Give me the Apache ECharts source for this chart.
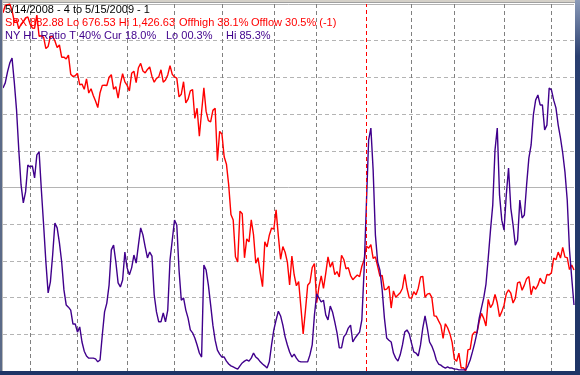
<!DOCTYPE html>
<html><head><meta charset="utf-8">
<script src="https://cdn.jsdelivr.net/npm/echarts@6/dist/echarts.min.js"></script>
<style>html,body{margin:0;padding:0;background:#fff}#c{width:580px;height:375px}</style>
</head><body><div id="c"></div>
<script>
const monthLabels = ['2008-05','2008-06','2008-07','2008-08','2008-09','2008-10','2008-11','2008-12','2009-01','2009-02','2009-03','2009-04','2009-05'];
const monthDays = [12,21,22,21,21,23,19,22,20,19,22,21,11];
const spx = [
1408.66,1423.57,1425.35,1426.63,1413.40,1390.71,1394.35,1375.93,1385.35,1390.84,1398.26,1400.38,
1385.67,1377.65,1377.20,1404.05,1360.68,1361.76,1358.44,1335.49,1339.87,1360.03,1360.14,1350.93,1337.81,1342.83,1317.93,1318.00,1314.29,1321.97,1283.15,1278.38,1280.00,
1284.91,1261.52,1262.90,1252.31,1273.70,1244.69,1253.39,1239.49,1228.30,1214.91,1245.36,1260.32,1260.68,1260.00,1277.00,1282.19,1252.54,1257.76,1234.37,1263.20,1284.26,1267.38,
1260.31,1249.01,1284.88,1289.19,1266.07,1296.32,1305.32,1289.59,1285.83,1292.93,1298.20,1278.60,1266.69,1274.54,1277.72,1292.20,1266.84,1271.51,1281.66,1300.68,1282.83,
1277.58,1274.98,1236.83,1242.31,1267.79,1224.51,1232.04,1249.05,1251.70,1192.70,1213.60,1156.39,1206.51,1255.08,1207.09,1188.22,1185.87,1209.18,1213.27,1106.39,1166.36,
1161.06,1114.28,1099.23,1056.89,996.23,984.94,909.92,899.22,1003.35,998.01,907.84,946.43,940.55,985.40,955.05,896.78,908.11,876.77,848.92,940.51,930.09,954.09,968.75,
966.30,1005.75,952.77,904.88,930.99,919.21,898.95,852.30,911.29,873.29,850.75,859.12,806.58,752.44,800.03,851.81,857.39,887.68,896.24,
816.21,848.81,870.74,845.22,876.07,909.70,888.67,899.24,873.59,879.73,868.57,913.18,904.42,885.28,887.88,871.63,863.16,868.15,872.80,869.42,890.64,903.25,
931.80,927.45,934.70,906.65,909.73,890.35,870.26,871.79,842.62,843.74,850.12,805.22,840.24,827.50,831.95,836.57,845.71,874.09,845.14,825.88,
825.44,838.51,832.23,845.85,868.60,869.89,827.16,833.74,835.19,826.84,789.17,788.42,778.94,770.05,743.33,773.14,764.90,752.83,735.09,
700.82,696.33,712.87,682.55,683.38,676.53,719.60,721.36,750.74,756.55,753.89,778.12,794.35,784.04,768.54,822.92,806.12,813.88,832.86,815.94,787.53,797.87,
811.08,834.38,842.50,835.48,815.55,825.16,856.56,858.73,841.50,852.06,865.30,869.60,832.39,850.08,843.55,851.92,866.23,857.51,855.16,873.64,872.81,
877.52,907.24,903.80,919.53,907.39,929.23,909.24,908.35,883.92,893.07,882.88];
const hlRatio = [
77.1,78.5,81.5,83.9,85.3,78.7,71.1,60.2,50.7,45.8,48.8,56.1,55.6,55.9,52.6,58.9,59.7,49.3,39.8,29.7,
21.3,24.3,31.6,40.3,39.0,34.9,29.7,22.1,18.0,17.4,16.6,12.8,12.8,10.6,12.0,7.9,5.4,4.1,3.5,3.5,
3.5,3.3,2.5,3.0,9.8,16.1,18.5,23.4,33.0,34.3,29.7,24.0,22.9,24.8,32.4,28.1,26.2,28.1,31.6,29.4,
34.3,39.0,37.1,33.8,30.8,32.4,31.3,20.7,16.1,13.4,13.4,15.8,13.4,16.6,30.2,35.7,41.1,39.8,27.5,19.3,
19.9,16.6,14.4,11.2,10.4,9.0,7.1,4.9,3.8,28.9,27.5,23.4,18.0,12.5,8.4,5.7,4.6,3.8,3.8,2.7,
1.9,1.4,1.1,0.8,0.5,1.4,2.2,2.7,3.0,2.7,3.5,4.9,3.8,3.3,2.5,1.9,1.4,0.8,2.5,7.1,
11.2,13.9,16.3,15.0,12.5,9.3,7.1,5.2,3.8,4.6,3.5,2.7,2.5,2.5,2.5,2.5,4.4,7.1,15.3,21.0,
19.9,18.8,19.3,15.3,13.9,17.7,16.1,13.4,10.4,6.3,6.3,9.3,10.1,11.7,12.5,7.9,9.0,9.8,10.6,13.9,
27.5,45.2,62.9,66.2,54.8,37.1,29.7,27.5,22.1,14.4,9.0,8.4,7.9,4.9,3.5,2.7,4.4,7.1,10.6,11.2,
10.1,7.6,5.2,4.9,4.1,7.1,11.7,15.0,11.7,7.9,6.8,5.2,3.0,1.9,1.6,1.1,0.8,1.1,0.8,0.8,
0.5,0.5,0.3,0.3,0.3,0.3,1.4,3.0,5.2,7.6,10.4,14.4,17.2,19.9,23.7,30.8,38.4,45.2,60.2,66.2,
48.0,41.1,38.4,48.0,55.3,44.4,39.8,34.3,35.7,46.6,41.7,42.5,50.7,58.0,61.6,69.8,73.8,75.2,72.5,72.5,
65.7,67.0,77.1,76.6,73.8,71.7,67.0,63.5,59.4,54.2,46.6,33.0,25.3,18.0];

const titleLine = '5/14/2008 - 4 to 5/15/2009 - 1';
const spxTexts = [['SPX 882.88 Lo 676.53 Hi 1,426.63',5],['Offhigh 38.1%',179],['Offlow 30.5% (-1)',251]];
const hlTexts = [['NY HL Ratio T 40%',5],['Cur',104],['18.0%',125],['Lo 00.3%',166],['Hi 85.3%',226]];

const categories = [];
const monthStarts = [];
monthLabels.forEach((m, i) => {
  monthStarts.push(categories.length);
  for (let d = 1; d <= monthDays[i]; d++) categories.push(m + '#' + d);
});
const yearStart = monthStarts[monthLabels.indexOf('2009-01')];
const greyStarts = monthStarts.slice(1).filter(i => i !== yearStart);

const RED = '#ff0000', PURPLE = '#40008c';
const font = '"Liberation Sans", Arial, sans-serif';
const chart = echarts.init(document.getElementById('c'), null, {renderer: 'canvas'});
const graphics = [
  {type:'rect', shape:{x:0,y:0,width:580,height:3}, style:{fill:'#d4d0c8'}, z:100},
  {type:'rect', shape:{x:0,y:2,width:575,height:1}, style:{fill:'#a0a0a0'}, z:100},
  {type:'rect', shape:{x:0,y:0,width:2,height:375}, style:{fill:'#5a6a88'}, z:100},
  {type:'rect', shape:{x:2,y:0,width:1,height:372}, style:{fill:'#b8b8b8'}, z:100},
  {type:'rect', shape:{x:0,y:371,width:580,height:4}, style:{fill:'#1e3466'}, z:100},
  {type:'rect', shape:{x:575,y:0,width:5,height:375}, style:{fill:{type:'linear',x:0,y:0,x2:0,y2:1,colorStops:[{offset:0,color:'#8a9ab8'},{offset:0.15,color:'#2a3f70'},{offset:1,color:'#1e3466'}]}}, z:100},
  {type:'text', x:5, y:10, style:{text:titleLine, fill:'#000', font:'11px '+font, textVerticalAlign:'middle'}, z:110}
];
spxTexts.forEach(t => graphics.push({type:'text', x:t[1], y:23, style:{text:t[0], fill:RED, font:'11px '+font, textVerticalAlign:'middle'}, z:110}));
hlTexts.forEach(t => graphics.push({type:'text', x:t[1], y:36, style:{text:t[0], fill:PURPLE, font:'11px '+font, textVerticalAlign:'middle'}, z:110}));

chart.setOption({
  animation: false,
  backgroundColor: '#ffffff',
  grid: {left:3, right:6, top:4, bottom:4, containLabel:false},
  xAxis: {type:'category', data:categories, boundaryGap:false,
    axisLine:{show:false}, axisTick:{show:false}, axisLabel:{show:false},
    splitLine:{show:true, interval:(idx) => greyStarts.includes(idx), lineStyle:{color:'#808080', type:[4,3], width:1}}},
  yAxis: [
    {type:'value', min:v=>v.min, max:v=>v.max, show:false, splitLine:{show:false}},
    {type:'value', min:0, max:100, interval:10, show:true, axisLine:{show:false}, axisTick:{show:false}, axisLabel:{show:false},
      splitLine:{show:true, lineStyle:{color:'#b4b4b4', type:[4,3], width:1}}},
    {type:'value', min:0, max:2, interval:1, show:true, axisLine:{show:false}, axisTick:{show:false}, axisLabel:{show:false},
      splitLine:{show:true, lineStyle:{color:'#b4b4b4', type:'solid', width:1}}}
  ],
  series: [
    {type:'line', name:'SPX', data:spx, yAxisIndex:0, showSymbol:false, symbol:'none',
      lineStyle:{color:RED, width:1.4}, z:3,
      markLine:{silent:true, symbol:'none', label:{show:false}, animation:false,
        lineStyle:{color:RED, type:[4,3], width:1}, data:[{xAxis:yearStart}]}},
    {type:'line', name:'NY HL Ratio', data:hlRatio, yAxisIndex:1, showSymbol:false, symbol:'none',
      lineStyle:{color:PURPLE, width:1.4}, z:4}
  ],
  graphic: graphics
});
</script></body></html>
